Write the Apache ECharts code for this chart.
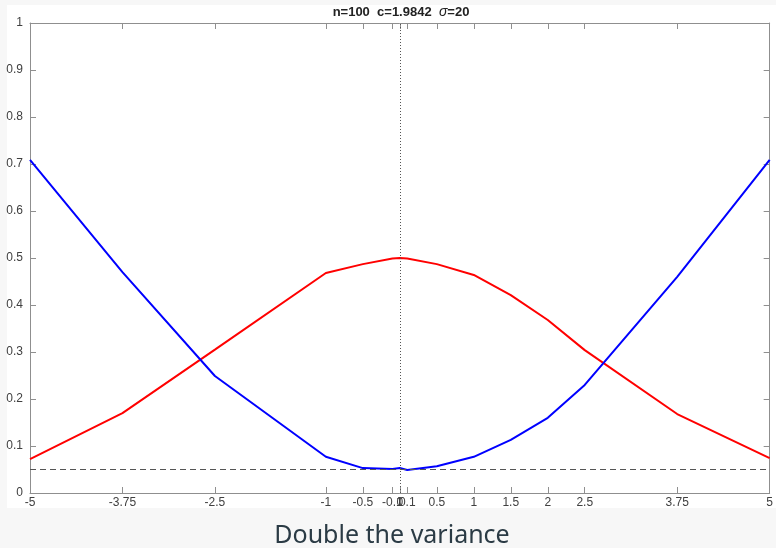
<!DOCTYPE html>
<html>
<head>
<meta charset="utf-8">
<script src="https://cdn.jsdelivr.net/npm/echarts@6/dist/echarts.min.js"></script>
<style>
  html, body { margin: 0; padding: 0; background: #f7f7f7; }
  #chart { width: 776px; height: 548px; }
</style>
</head>
<body>
<div id="chart"></div>
<script>
// x positions (same for both curves)
const xs = [-5, -3.75, -2.5, -1, -0.5, -0.1, 0, 0.1, 0.5, 1, 1.5, 2, 2.5, 3.75, 5]
// red curve
const redVals = [0.072, 0.170, 0.305, 0.468, 0.487, 0.499, 0.500, 0.499, 0.487, 0.464, 0.421, 0.368, 0.304, 0.168, 0.074]
// blue curve
const blueVals = [0.709, 0.470, 0.249, 0.077, 0.053, 0.051, 0.053, 0.049, 0.057, 0.077, 0.113, 0.160, 0.230, 0.460, 0.709]
// x tick labels
const xTicks = [-5, -3.75, -2.5, -1, -0.5, -0.1, 0, 0.1, 0.5, 1, 1.5, 2, 2.5, 3.75, 5]
const refLevel = 0.05

const pair = (vals) => xs.map((x, i) => [x, vals[i]])

const axisGray = '#8f8f8f'
const labelColor = '#404040'
const labelFont = 'Liberation Sans'

let mychart = echarts.init(document.getElementById('chart'))

mychart.setOption({
    animation: false,
    backgroundColor: '#f7f7f7',
    graphic: [
        // white figure area
        {
            type: 'rect', z: -10, silent: true,
            shape: { x: 7, y: 5, width: 769, height: 503 },
            style: { fill: '#ffffff' }
        },
        // title
        {
            type: 'text', x: 401, y: 12,
            style: {
                text: '{b|n=100  c=1.9842  }{i|σ}{b|=20}',
                align: 'center', verticalAlign: 'middle',
                rich: {
                    b: { fontFamily: labelFont, fontWeight: 'bold', fontSize: 13, fill: '#222' },
                    i: { fontFamily: labelFont, fontStyle: 'italic', fontSize: 14, fill: '#222' }
                }
            }
        },
        // caption
        {
            type: 'text', x: 392, y: 536,
            style: {
                text: 'Double the variance',
                align: 'center', verticalAlign: 'middle',
                fontFamily: 'Noto Sans', fontSize: 25, fill: '#2b3b45'
            }
        }
    ],
    grid: { left: 30, right: 4, top: 23, bottom: 55, containLabel: false },
    xAxis: [
        {
            type: 'value', min: -5, max: 5, position: 'bottom',
            axisLine: { show: true, onZero: false, lineStyle: { color: axisGray } },
            axisTick: { show: true, inside: true, length: 6, customValues: xTicks, lineStyle: { color: axisGray } },
            axisLabel: {
                customValues: xTicks, hideOverlap: false, color: labelColor,
                fontFamily: labelFont, fontSize: 12, margin: 4
            },
            splitLine: { show: false }
        },
        {
            type: 'value', min: -5, max: 5, position: 'top',
            axisLine: { show: true, onZero: false, lineStyle: { color: axisGray } },
            axisTick: { show: true, inside: true, length: 6, customValues: xTicks, lineStyle: { color: axisGray } },
            axisLabel: { show: false },
            splitLine: { show: false }
        }
    ],
    yAxis: [
        {
            type: 'value', min: 0, max: 1, interval: 0.1, position: 'left',
            axisLine: { show: true, onZero: false, lineStyle: { color: axisGray } },
            axisTick: { show: true, inside: true, length: 6, lineStyle: { color: axisGray } },
            axisLabel: { color: labelColor, fontFamily: labelFont, fontSize: 12, margin: 7 },
            splitLine: { show: false }
        },
        {
            type: 'value', min: 0, max: 1, interval: 0.1, position: 'right',
            axisLine: { show: true, onZero: false, lineStyle: { color: axisGray } },
            axisTick: { show: true, inside: true, length: 6, lineStyle: { color: axisGray } },
            axisLabel: { show: false },
            splitLine: { show: false }
        }
    ],
    series: [
        {
            type: 'line', data: pair(redVals), showSymbol: false,
            lineStyle: { color: '#ff0000', width: 2 }, z: 3
        },
        {
            type: 'line', data: pair(blueVals), showSymbol: false,
            lineStyle: { color: '#0000ff', width: 2 }, z: 4,
            markLine: {
                silent: true, symbol: 'none', label: { show: false },
                data: [
                    { yAxis: refLevel, lineStyle: { type: [6, 4], color: '#555', width: 1 } },
                    { xAxis: 0, lineStyle: { type: [1, 2], color: '#555', width: 1 } }
                ]
            }
        }
    ]
})
</script>
</body>
</html>
